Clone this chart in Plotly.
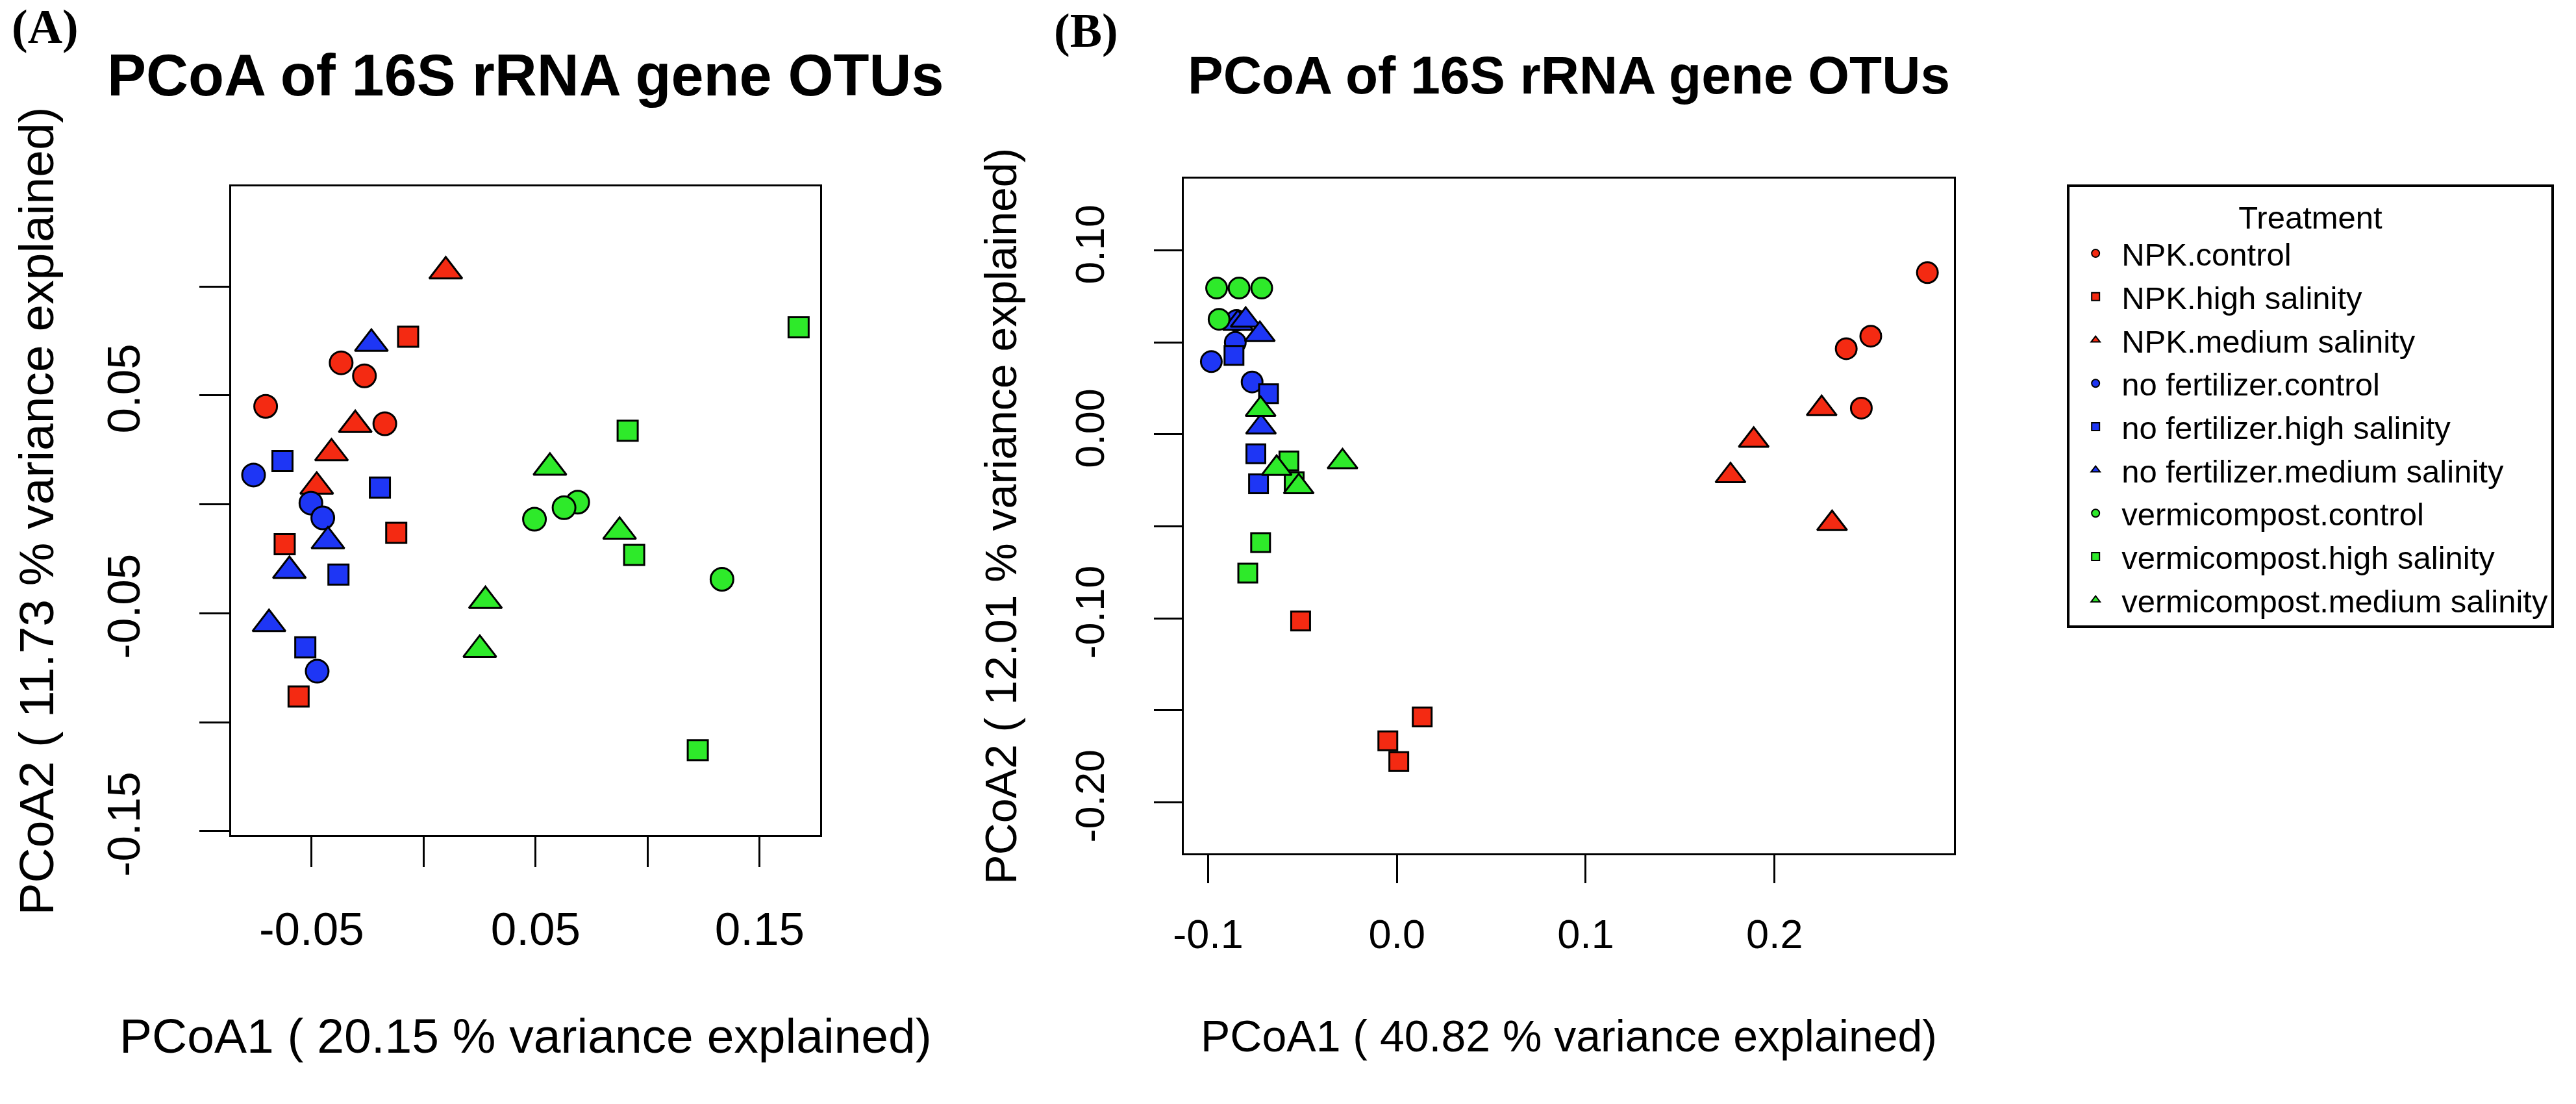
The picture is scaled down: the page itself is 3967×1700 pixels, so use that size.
import plotly.graph_objects as go

# figure size in px (same as the reference picture)
W, H = 3967, 1700

treatments = [
    "NPK.control", "NPK.high salinity", "NPK.medium salinity",
    "no fertilizer.control", "no fertilizer.high salinity", "no fertilizer.medium salinity",
    "vermicompost.control", "vermicompost.high salinity", "vermicompost.medium salinity",
]

# panel (A): samples, 4 per treatment
a_group = [t for t in treatments for _ in range(4)]
a_pc1 = [
    -0.0368, -0.0264, -0.0705, -0.0173,
    -0.0069, -0.0122, -0.0620, -0.0558,
    0.0099, -0.0305, -0.0411, -0.0477,
    -0.0759, -0.0503, -0.0450, -0.0475,
    -0.0630, -0.0195, -0.0380, -0.0528,
    -0.0233, -0.0427, -0.0599, -0.0690,
    0.0688, 0.0627, 0.0495, 0.1332,
    0.0911, 0.0940, 0.1224, 0.1674,
    0.0564, 0.0875, 0.0276, 0.0251,
]
a_pc2 = [
    0.0650, 0.0590, 0.0450, 0.0370,
    0.0770, -0.0131, -0.0183, -0.0882,
    0.1070, 0.0365, 0.0235, 0.0082,
    0.0135, 0.0006, -0.0062, -0.0766,
    0.0199, 0.0077, -0.0322, -0.0656,
    0.0738, -0.0169, -0.0305, -0.0549,
    0.0010, -0.0015, -0.0068, -0.0344,
    0.0338, -0.0232, -0.1129, 0.0813,
    0.0169, -0.0125, -0.0443, -0.0667,
]

# panel (B)
b_group = [t for t in treatments for _ in range(4)]
b_pc1 = [
    0.2810, 0.2510, 0.2380, 0.2460,
    -0.0510, 0.0134, -0.0048, 0.0010,
    0.2250, 0.1890, 0.1767, 0.2305,
    -0.0983, -0.0856, -0.0767, -0.0850,
    -0.0863, -0.0680, -0.0747, -0.0733,
    -0.0842, -0.0801, -0.0726, -0.0720,
    -0.0955, -0.0836, -0.0716, -0.0942,
    -0.0572, -0.0544, -0.0722, -0.0790,
    -0.0722, -0.0637, -0.0520, -0.0288,
]
b_pc2 = [
    0.0880, 0.0534, 0.0466, 0.0143,
    -0.1015, -0.1537, -0.1667, -0.1780,
    0.0140, -0.0032, -0.0225, -0.0485,
    0.0396, 0.0500, 0.0285, 0.0620,
    0.0430, 0.0221, -0.0105, -0.0269,
    0.0604, 0.0621, 0.0543, 0.0040,
    0.0796, 0.0796, 0.0796, 0.0626,
    -0.0144, -0.0257, -0.0588, -0.0754,
    0.0136, -0.0185, -0.0285, -0.0149,
]

a_var = [20.15, 11.73]
b_var = [40.82, 12.01]

colors = {"NPK": "#F42A12", "no fertilizer": "#1E36F5", "vermicompost": "#2EEA2A"}
symbols = {"control": "circle", "high salinity": "square", "medium salinity": "triangle-up"}
sizes_a = {"control": 35, "high salinity": 31, "medium salinity": 44}
sizes_b = {"control": 32, "high salinity": 29, "medium salinity": 40}

FONT = "Liberation Sans, Arial, Helvetica, sans-serif"
SERIF = "Liberation Serif, Times New Roman, serif"

fig = go.Figure()


def add_panel(groups, xs, ys, xaxis, yaxis, sizes, legend):
    for t in treatments:
        fert, level = t.split(".")
        px_ = [x for g, x in zip(groups, xs) if g == t]
        py_ = [y for g, y in zip(groups, ys) if g == t]
        fig.add_trace(go.Scatter(
            x=px_, y=py_, mode="markers", name=t, legendgroup=t,
            showlegend=legend, xaxis=xaxis, yaxis=yaxis,
            marker=dict(symbol=symbols[level], size=sizes[level],
                        color=colors[fert], line=dict(color="black", width=3)),
        ))


add_panel(a_group, a_pc1, a_pc2, "x", "y", sizes_a, False)
add_panel(b_group, b_pc1, b_pc2, "x2", "y2", sizes_b, True)


def axis(size, ticklen, standoff, **kw):
    d = dict(
        showline=True, linecolor="black", linewidth=3, mirror=True,
        ticks="outside", ticklen=ticklen, tickwidth=3, tickcolor="black",
        showgrid=False, zeroline=False, ticklabelstandoff=standoff,
        tickfont=dict(family=FONT, size=size, color="black"),
    )
    d.update(kw)
    return d


# plot boxes, in pixels of the picture
box_a = (341, 1252, 298, 1336)
box_b = (1814, 3005, 286, 1365)


def dom(box):
    l, r, t, b = box
    return [l / W, r / W], [1 - b / H, 1 - t / H]


xa, ya = dom(box_a)
xb, yb = dom(box_b)

fig.update_layout(
    width=W, height=H, margin=dict(l=0, r=0, t=0, b=0),
    paper_bgcolor="white", plot_bgcolor="white",
    font=dict(family=FONT, color="black"),
    xaxis=axis(71, 46, 34, domain=xa, range=[-0.086, 0.177],
               tickvals=[-0.05, 0, 0.05, 0.10, 0.15],
               ticktext=["-0.05", "", "0.05", "", "0.15"]),
    yaxis=axis(71, 46, 63, domain=ya, range=[-0.152, 0.146], anchor="x",
               tickvals=[-0.15, -0.10, -0.05, 0, 0.05, 0.10],
               ticktext=["-0.15", "", "-0.05", "", "0.05", ""], tickangle=-90),
    xaxis2=axis(63, 43, 24, domain=xb, range=[-0.113, 0.295], anchor="y2",
                tickvals=[-0.1, 0, 0.1, 0.2],
                ticktext=["-0.1", "0.0", "0.1", "0.2"]),
    yaxis2=axis(63, 43, 51, domain=yb, range=[-0.228, 0.139], anchor="x2",
                tickvals=[-0.20, -0.15, -0.10, -0.05, 0, 0.05, 0.10],
                ticktext=["-0.20", "", "-0.10", "", "0.00", "", "0.10"], tickangle=-90),
    legend=dict(
        x=3180 / W, y=1 - 295 / H, xanchor="left", yanchor="top",
        bordercolor="black", borderwidth=4, bgcolor="white",
        font=dict(family=FONT, size=49, color="black"),
        title=dict(text="Treatment", side="top center",
                   font=dict(family=FONT, size=49, color="black")),
        itemsizing="constant", itemwidth=70, tracegroupgap=0,
        entrywidth=775,
    ),
)

ann = []
# (box, variance, title size, axis title size, y title x position)
for box, var, ts, ls, ytx in [(box_a, a_var, 90, 75, 40), (box_b, b_var, 82, 68, 1531)]:
    l, r, t, b = box
    cx = (l + r) / 2 / W
    cy = 1 - (t + b) / 2 / H
    ann.append(dict(text="<b>PCoA of 16S rRNA gene OTUs</b>", x=cx, y=1 - 120 / H,
                    font=dict(size=ts)))
    ann.append(dict(text="PCoA1 ( %.2f %% variance explained)" % var[0], x=cx,
                    y=1 - 1656 / H, font=dict(size=ls)))
    ann.append(dict(text="PCoA2 ( %.2f %% variance explained)" % var[1],
                    x=ytx / W, y=cy, textangle=-90, font=dict(size=ls)))
ann.append(dict(text="<b>(A)</b>", x=0.0, y=1 - 43 / H, xanchor="left",
                font=dict(family=SERIF, size=74)))
ann.append(dict(text="<b>(B)</b>", x=1611 / W, y=1 - 49 / H, xanchor="left",
                font=dict(family=SERIF, size=74)))
for a in ann:
    a.setdefault("xanchor", "center")
    a.update(xref="paper", yref="paper", yanchor="middle", showarrow=False)
fig.update_layout(annotations=ann)

fig.write_html("out.html", config={"displayModeBar": False},
               post_script="document.body.style.margin='0';")
